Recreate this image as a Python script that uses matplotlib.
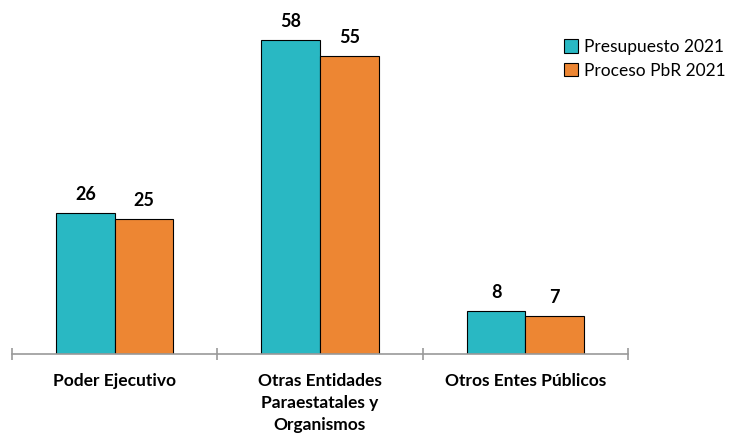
import matplotlib.pyplot as plt
import numpy as np

plt.rcParams['font.family'] = ['Lato', 'DejaVu Sans']

categories = ['Poder Ejecutivo', 'Otras Entidades\nParaestatales y\nOrganismos', 'Otros Entes Públicos']
presupuesto = [26, 58, 8]
proceso_pbr = [25, 55, 7]
series_names = ['Presupuesto 2021', 'Proceso PbR 2021']

teal = '#29B8C3'
orange = '#ED8633'

fig = plt.figure(figsize=(7.35, 4.38), dpi=100)
ax = fig.add_axes([12 / 735, 84 / 438, 616 / 735, 325 / 438])

x = np.arange(len(categories))
w = 0.285
b1 = ax.bar(x - w / 2, presupuesto, w, color=teal, edgecolor='black', linewidth=0.8, label=series_names[0])
b2 = ax.bar(x + w / 2, proceso_pbr, w, color=orange, edgecolor='black', linewidth=0.8, label=series_names[1])

for bars, vals in [(b1, presupuesto), (b2, proceso_pbr)]:
    for bar, v in zip(bars, vals):
        ax.annotate(str(v), (bar.get_x() + bar.get_width() / 2, v), xytext=(0, 7),
                    textcoords='offset points', ha='center', va='bottom',
                    fontsize=13, fontweight='bold')

ax.set_xlim(-0.5, 2.5)
ax.set_ylim(0, 60)
ax.set_yticks([])
for s in ['top', 'right', 'left']:
    ax.spines[s].set_visible(False)
ax.spines['bottom'].set_color('#999999')
ax.spines['bottom'].set_linewidth(1.2)

ax.set_xticks([-0.5, 0.5, 1.5, 2.5])
ax.set_xticklabels([])
ax.tick_params(axis='x', which='major', direction='inout', length=9, color='#999999', width=1.2)
ax.set_xticks(x, minor=True)
ax.set_xticklabels(categories, minor=True, fontsize=12.5, fontweight='bold', linespacing=1.45)
ax.tick_params(axis='x', which='minor', length=0, pad=14)

ax.legend(loc='upper left', bbox_to_anchor=(557 / 735, 1 - 32 / 438), bbox_transform=fig.transFigure,
          frameon=False, fontsize=12.5, handlelength=0.8, handleheight=0.8, handletextpad=0.35,
          labelspacing=0.45, borderaxespad=0)

fig.savefig('out.png', dpi=100)
